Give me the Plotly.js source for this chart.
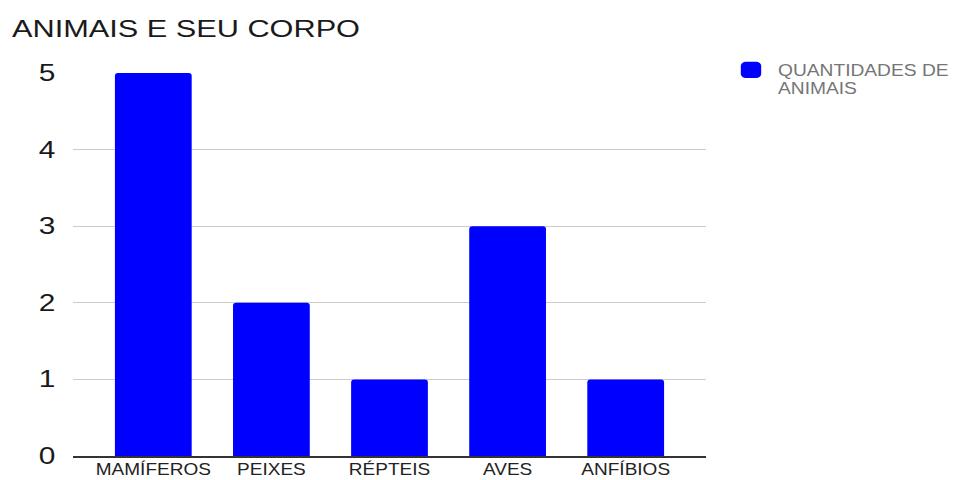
<!DOCTYPE html>
<html>
<head>
<meta charset="utf-8">
<script src="https://cdn.plot.ly/plotly-3.0.1.min.js"></script>
<style>html,body{margin:0;padding:0;background:#fff;}#chart{width:954px;height:480px;}</style>
</head>
<body>
<div id="chart"></div>
<script>
const categories = ["MAMÍFEROS", "PEIXES", "RÉPTEIS", "AVES", "ANFÍBIOS"];
const values = [5, 2, 1, 3, 1];
const seriesName = "QUANTIDADES DE<br>ANIMAIS";
const yTicks = [0, 1, 2, 3, 4, 5];

const font = "Liberation Sans, Arial, sans-serif";
Plotly.newPlot("chart", [{
  type: "bar",
  x: categories.map((c, i) => i),
  y: values,
  name: seriesName,
  width: 0.65,
  marker: {color: "#0000ff", cornerradius: 3},
  hoverinfo: "none"
}], {
  width: 954, height: 480,
  margin: {l: 73, r: 248, t: 73, b: 24, pad: 0},
  paper_bgcolor: "#fff", plot_bgcolor: "#fff",
  title: {text: "ANIMAIS E SEU CORPO", x: 12/954, xanchor: "left", xref: "container", y: 1 - 37/480, yanchor: "bottom", yref: "container",
    font: {family: font, size: 24, color: "#1a1a1a"}},
  xaxis: {
    range: [-0.68, 4.68],
    tickvals: categories.map((c, i) => i),
    ticktext: categories,
    showgrid: false, zeroline: false,
    showline: true, linecolor: "#333", linewidth: 1.5,
    ticks: "", ticklen: 0,
    tickfont: {family: font, size: 17, color: "#222"},
    fixedrange: true
  },
  yaxis: {
    range: [0, 5],
    tickvals: yTicks,
    showgrid: true, gridcolor: "#cccccc", gridwidth: 1,
    zeroline: false, showline: false,
    ticks: "outside", ticklen: 12, tickcolor: "rgba(0,0,0,0)",
    tickfont: {family: font, size: 23, color: "#1a1a1a"},
    fixedrange: true
  },
  showlegend: true,
  legend: {x: 738/954, xref: "container", xanchor: "left", y: 1 - 53/480, yref: "container", yanchor: "top",
    valign: "top", bgcolor: "rgba(0,0,0,0)",
    font: {family: font, size: 16, color: "#757575"}, itemwidth: 30, tracegroupgap: 0},
  bargap: 0.35
}, {displayModeBar: false, staticPlot: true}).then(function () {
  function stretch(sel, s, dy) {
    document.querySelectorAll(sel).forEach(function (el) {
      const X = parseFloat(el.getAttribute("x") || 0);
      const t = el.getAttribute("transform") || "";
      el.setAttribute("transform", t + " translate(" + X + "," + (dy || 0) + ") scale(" + s + ",1) translate(" + (-X) + ",0)");
    });
  }
  stretch(".gtitle", 1.28);
  stretch(".ytick text", 1.3);
  stretch(".xtick text", 1.12, -3);
  stretch(".legendtext", 1.2);
  document.querySelectorAll(".legend [clip-path]").forEach(function (el) { el.removeAttribute("clip-path"); });
  document.querySelectorAll(".legendtext tspan.line").forEach(function (el, i) {
    if (i > 0) el.setAttribute("dy", "1.12em");
  });
  document.querySelectorAll(".legendpoints path").forEach(function (el) {
    const t = el.getAttribute("transform") || "";
    el.setAttribute("transform", t + " translate(-7,0) scale(1.7,1.35)");
  });
});
</script>
</body>
</html>
